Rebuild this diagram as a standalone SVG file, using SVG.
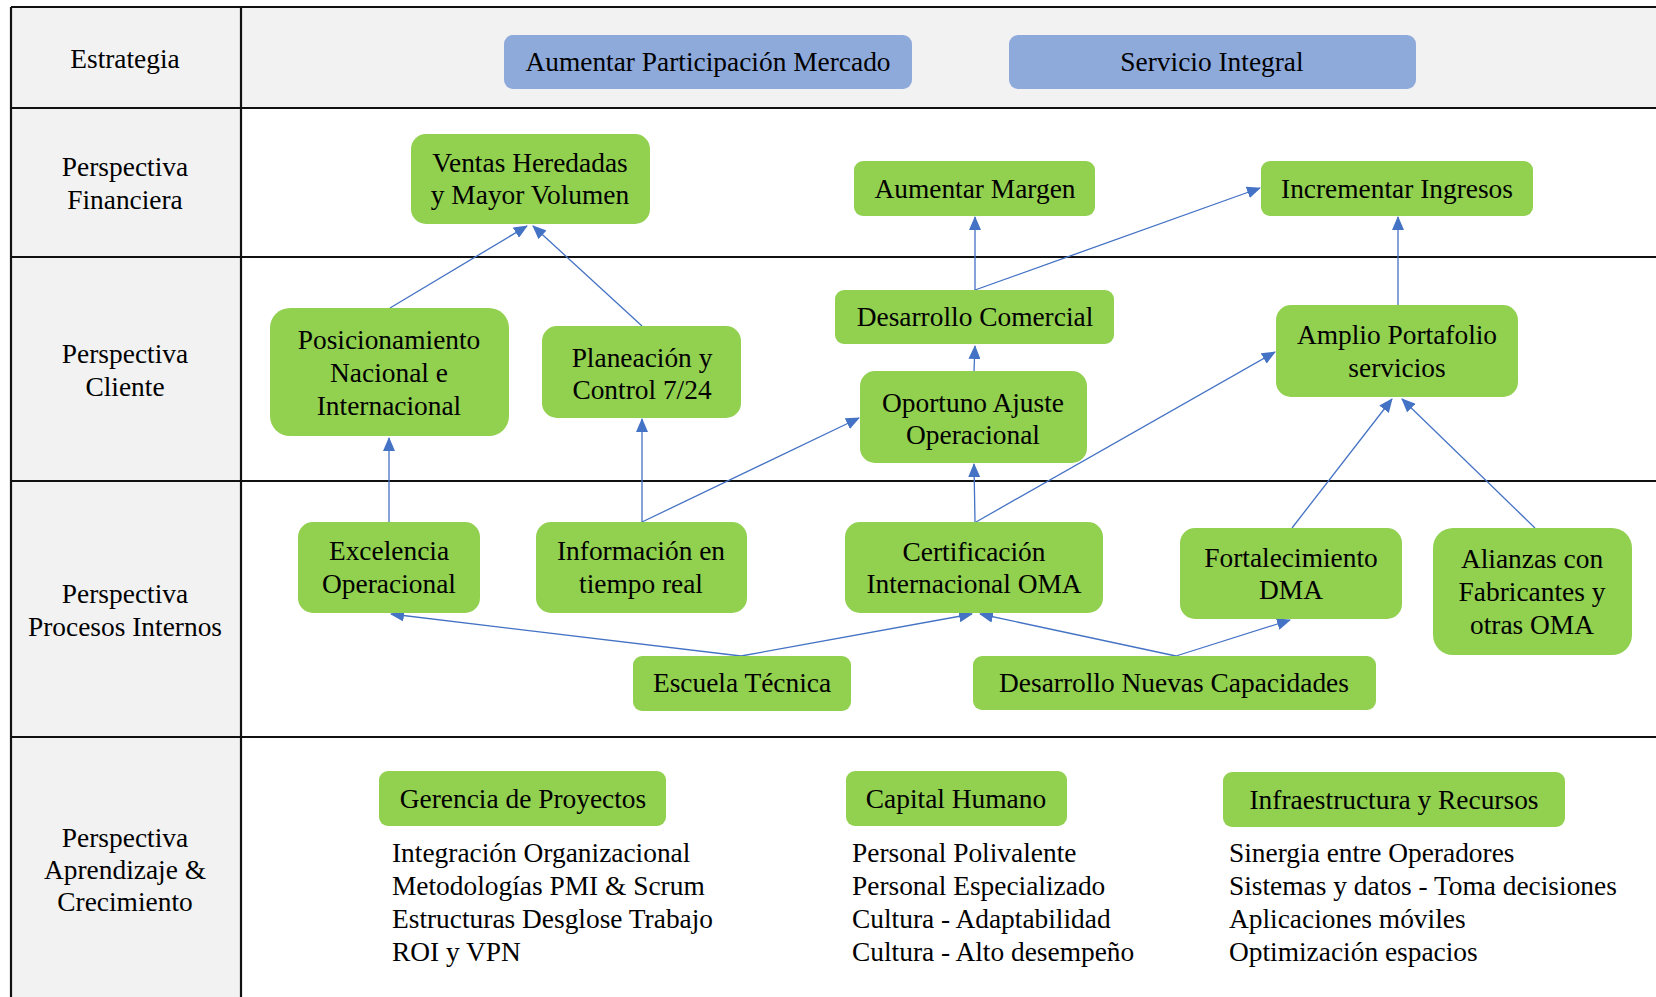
<svg xmlns="http://www.w3.org/2000/svg" width="1656" height="997" viewBox="0 0 1656 997">
  <style>
    text { font-family: "Liberation Serif", "Times New Roman", serif; font-size: 27.4px; fill: #000; }
    .c { text-anchor: middle; }
    .grid { stroke: #111; stroke-width: 2.2; fill: none; }
    .gray { fill: #f2f2f2; }
    .goal { fill: #8eaadb; }
    .obj { fill: #92d050; }
    .link { stroke: #4472c4; stroke-width: 1.3; fill: none; marker-end: url(#arrow); }
  </style>
  <defs>
    <marker id="arrow" markerUnits="userSpaceOnUse" markerWidth="14" markerHeight="12" refX="13" refY="6" orient="auto">
      <path d="M0,0 L14,6 L0,12 Z" fill="#4472c4"/>
    </marker>
  </defs>

  <!-- background and table grid -->
  <g id="table">
    <rect x="0" y="0" width="1656" height="997" fill="#ffffff"/>
    <rect class="gray" x="11" y="7" width="230" height="990"/>
    <rect class="gray" x="241" y="7" width="1415" height="101"/>
    <line class="grid" x1="11" y1="7" x2="1656" y2="7"/>
    <line class="grid" x1="11" y1="108" x2="1656" y2="108"/>
    <line class="grid" x1="11" y1="257" x2="1656" y2="257"/>
    <line class="grid" x1="11" y1="481" x2="1656" y2="481"/>
    <line class="grid" x1="11" y1="737" x2="1656" y2="737"/>
    <line class="grid" x1="11" y1="7" x2="11" y2="997"/>
    <line class="grid" x1="241" y1="7" x2="241" y2="997"/>
  </g>

  <!-- row headings -->
  <g id="row-labels">
    <text class="c" x="125" y="68">Estrategia</text>
    <text class="c" x="125" y="176">Perspectiva</text>
    <text class="c" x="125" y="209">Financiera</text>
    <text class="c" x="125" y="363">Perspectiva</text>
    <text class="c" x="125" y="396">Cliente</text>
    <text class="c" x="125" y="603">Perspectiva</text>
    <text class="c" x="125" y="636">Procesos Internos</text>
    <text class="c" x="125" y="847">Perspectiva</text>
    <text class="c" x="125" y="879">Aprendizaje &amp;</text>
    <text class="c" x="125" y="911">Crecimiento</text>
  </g>

  <!-- cause and effect links -->
  <g id="connectors">
    <line class="link" x1="390" y1="308" x2="527" y2="226"/>
    <line class="link" x1="642" y1="326" x2="533" y2="226"/>
    <line class="link" x1="389" y1="522" x2="389" y2="438"/>
    <line class="link" x1="642" y1="522" x2="642" y2="419"/>
    <line class="link" x1="642" y1="522" x2="859" y2="418"/>
    <line class="link" x1="975" y1="522" x2="974" y2="464"/>
    <line class="link" x1="976" y1="522" x2="1275" y2="352"/>
    <line class="link" x1="974" y1="371" x2="975" y2="346"/>
    <line class="link" x1="975" y1="290" x2="975" y2="217"/>
    <line class="link" x1="975" y1="290" x2="1260" y2="188"/>
    <line class="link" x1="1398" y1="305" x2="1398" y2="217"/>
    <line class="link" x1="1292" y1="528" x2="1392" y2="399"/>
    <line class="link" x1="1535" y1="528" x2="1402" y2="399"/>
    <line class="link" x1="741" y1="656" x2="391" y2="614"/>
    <line class="link" x1="741" y1="656" x2="972" y2="614"/>
    <line class="link" x1="1176" y1="656" x2="980" y2="614"/>
    <line class="link" x1="1176" y1="656" x2="1290" y2="620"/>
  </g>

  <!-- strategy -->
  <g id="aumentar-participacion">
    <rect class="goal" x="504" y="35" width="408" height="54" rx="9"/>
    <text class="c" x="708" y="71">Aumentar Participación Mercado</text>
  </g>
  <g id="servicio-integral">
    <rect class="goal" x="1009" y="35" width="407" height="54" rx="9"/>
    <text class="c" x="1212" y="71">Servicio  Integral</text>
  </g>

  <!-- financial -->
  <g id="ventas-heredadas">
    <rect class="obj" x="411" y="134" width="239" height="90" rx="15"/>
    <text class="c" x="530" y="172">Ventas Heredadas</text>
    <text class="c" x="530" y="204">y Mayor Volumen</text>
  </g>
  <g id="aumentar-margen">
    <rect class="obj" x="854" y="161" width="241" height="55" rx="9"/>
    <text class="c" x="975" y="198">Aumentar Margen</text>
  </g>
  <g id="incrementar-ingresos">
    <rect class="obj" x="1261" y="161" width="272" height="55" rx="9"/>
    <text class="c" x="1397" y="198">Incrementar Ingresos</text>
  </g>

  <!-- customer -->
  <g id="posicionamiento">
    <rect class="obj" x="270" y="308" width="239" height="128" rx="20"/>
    <text class="c" x="389" y="349">Posicionamiento</text>
    <text class="c" x="389" y="382">Nacional e</text>
    <text class="c" x="389" y="415">Internacional</text>
  </g>
  <g id="planeacion">
    <rect class="obj" x="542" y="326" width="199" height="92" rx="15"/>
    <text class="c" x="642" y="367">Planeación y</text>
    <text class="c" x="642" y="399">Control 7/24</text>
  </g>
  <g id="desarrollo-comercial">
    <rect class="obj" x="835" y="290" width="279" height="54" rx="9"/>
    <text class="c" x="975" y="326">Desarrollo  Comercial</text>
  </g>
  <g id="oportuno-ajuste">
    <rect class="obj" x="860" y="371" width="227" height="92" rx="15"/>
    <text class="c" x="973" y="412">Oportuno Ajuste</text>
    <text class="c" x="973" y="444">Operacional</text>
  </g>
  <g id="amplio-portafolio">
    <rect class="obj" x="1276" y="305" width="242" height="92" rx="15"/>
    <text class="c" x="1397" y="344">Amplio Portafolio</text>
    <text class="c" x="1397" y="377">servicios</text>
  </g>

  <!-- internal processes -->
  <g id="excelencia">
    <rect class="obj" x="298" y="522" width="182" height="91" rx="15"/>
    <text class="c" x="389" y="560">Excelencia</text>
    <text class="c" x="389" y="593">Operacional</text>
  </g>
  <g id="informacion">
    <rect class="obj" x="536" y="522" width="211" height="91" rx="15"/>
    <text class="c" x="641" y="560">Información en</text>
    <text class="c" x="641" y="593">tiempo real</text>
  </g>
  <g id="certificacion">
    <rect class="obj" x="845" y="522" width="258" height="91" rx="15"/>
    <text class="c" x="974" y="561">Certificación</text>
    <text class="c" x="974" y="593">Internacional OMA</text>
  </g>
  <g id="fortalecimiento">
    <rect class="obj" x="1180" y="528" width="222" height="91" rx="15"/>
    <text class="c" x="1291" y="567">Fortalecimiento</text>
    <text class="c" x="1291" y="599">DMA</text>
  </g>
  <g id="alianzas">
    <rect class="obj" x="1433" y="528" width="199" height="127" rx="20"/>
    <text class="c" x="1532" y="568">Alianzas  con</text>
    <text class="c" x="1532" y="601">Fabricantes y</text>
    <text class="c" x="1532" y="634">otras OMA</text>
  </g>
  <g id="escuela-tecnica">
    <rect class="obj" x="633" y="656" width="218" height="55" rx="9"/>
    <text class="c" x="742" y="692">Escuela Técnica</text>
  </g>
  <g id="nuevas-capacidades">
    <rect class="obj" x="973" y="656" width="403" height="54" rx="9"/>
    <text class="c" x="1174" y="692">Desarrollo  Nuevas Capacidades</text>
  </g>

  <!-- learning and growth -->
  <g id="gerencia-proyectos">
    <rect class="obj" x="379" y="771" width="287" height="55" rx="9"/>
    <text class="c" x="523" y="808">Gerencia de Proyectos</text>
    <text x="392" y="862">Integración Organizacional</text>
    <text x="392" y="895">Metodologías PMI &amp; Scrum</text>
    <text x="392" y="928">Estructuras Desglose Trabajo</text>
    <text x="392" y="961">ROI y VPN</text>
  </g>
  <g id="capital-humano">
    <rect class="obj" x="846" y="771" width="221" height="55" rx="9"/>
    <text class="c" x="956" y="808">Capital Humano</text>
    <text x="852" y="862">Personal Polivalente</text>
    <text x="852" y="895">Personal Especializado</text>
    <text x="852" y="928">Cultura - Adaptabilidad</text>
    <text x="852" y="961">Cultura - Alto desempeño</text>
  </g>
  <g id="infraestructura">
    <rect class="obj" x="1223" y="772" width="342" height="55" rx="9"/>
    <text class="c" x="1394" y="809">Infraestructura y Recursos</text>
    <text x="1229" y="862">Sinergia entre Operadores</text>
    <text x="1229" y="895">Sistemas y datos - Toma decisiones</text>
    <text x="1229" y="928">Aplicaciones móviles</text>
    <text x="1229" y="961">Optimización espacios</text>
  </g>
</svg>
